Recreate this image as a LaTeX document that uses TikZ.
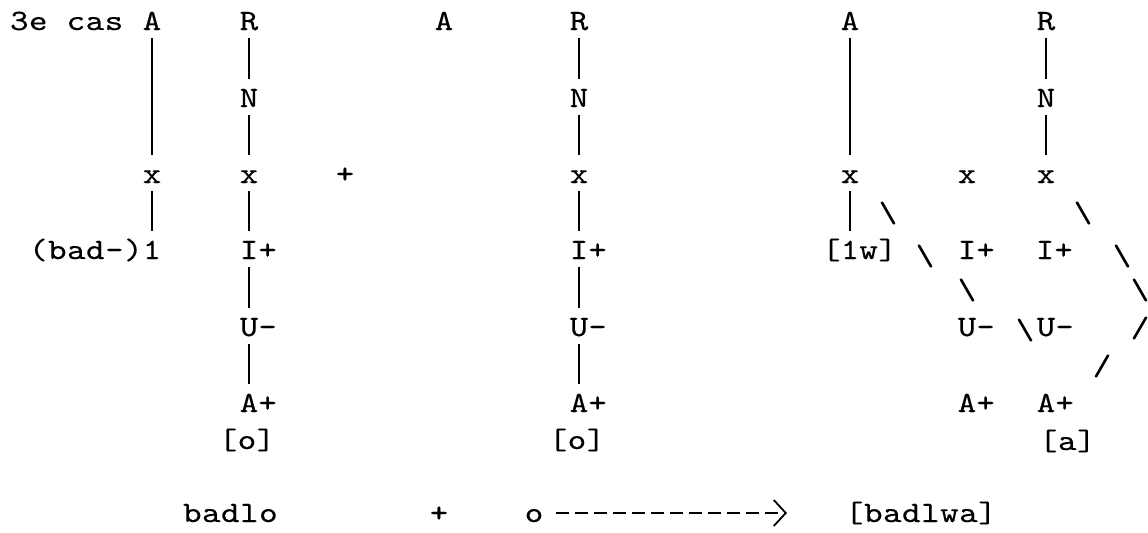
\documentclass[tikz,border=0pt]{standalone}
\usepackage{fontspec}
\newfontfamily\tw{lmmono10-regular.otf}[FakeStretch=1.2, FakeBold=0.25, LetterSpace=1.5]
\usetikzlibrary{arrows.meta}
\begin{document}
\begin{tikzpicture}[x=0.5pt,y=-0.5pt,
  t/.style={inner sep=0pt, outer sep=0pt, anchor=base, font=\tw\fontsize{14.75}{16}\selectfont, text height=9pt, text depth=0pt},
  tl/.style={t, anchor=base west},
  bs/.style={inner sep=0pt, outer sep=0pt, anchor=center, font=\tw\fontsize{14.75}{16}\selectfont},
  link/.style={line width=0.65pt, shorten <=4pt, shorten >=5pt},
  dasharrow/.style={line width=0.9pt, dash pattern=on 6.5pt off 3pt, shorten <=6.5pt, shorten >=29pt,
     -{Straight Barb[length=6pt,width=13pt,line width=0.9pt]}}]
\useasboundingbox (0,0) rectangle (1148,532);

% title
\node[tl] (title) at (10,30) {3e cas};

% column 1
\node[t] (A1) at (152,30) {A};
\node[t] (x1) at (152,183) {x};
\node[t] (l1) at (152,259) {\llap{(bad-)}1};
\draw[link] (A1.south) -- (x1.north);
\draw[link] (x1.south) -- (l1.north);

% column 2
\node[t] (R2) at (249,30) {R};
\node[t] (N2) at (249,107) {N};
\node[t] (x2) at (249,183) {x};
\node[t] (I2) at (249,259) {I\rlap{+}};
\node[t] (U2) at (249,336) {U\rlap{-}};
\node[t] (A2) at (249,412) {A\rlap{+}};
\node[t] (o2) at (247,449) {[o]};
\draw[link] (R2.south) -- (N2.north);
\draw[link] (N2.south) -- (x2.north);
\draw[link] (x2.south) -- (I2.north);
\draw[link] (I2.south) -- (U2.north);
\draw[link] (U2.south) -- (A2.north);

\node[t] (plus1) at (345,183) {+};

% column 3
\node[t] (A3) at (444,30) {A};
\node[t] (R3) at (579,30) {R};
\node[t] (N3) at (579,107) {N};
\node[t] (x3) at (579,183) {x};
\node[t] (I3) at (579,259) {I\rlap{+}};
\node[t] (U3) at (579,336) {U\rlap{-}};
\node[t] (A3b) at (579,412) {A\rlap{+}};
\node[t] (o3) at (577,449) {[o]};
\draw[link] (R3.south) -- (N3.north);
\draw[link] (N3.south) -- (x3.north);
\draw[link] (x3.south) -- (I3.north);
\draw[link] (I3.south) -- (U3.north);
\draw[link] (U3.south) -- (A3b.north);

% column 4
\node[t] (A4) at (850,30) {A};
\node[t] (x4) at (850,183) {x};
\node[t] (w4) at (850,259) {\llap{[}1\rlap{w]}};
\draw[link] (A4.south) -- (x4.north);
\draw[link] (x4.south) -- (w4.north);

% column 4b
\node[t] (x45) at (967,183) {x};
\node[t] (I45) at (967,259) {I\rlap{+}};
\node[t] (U45) at (967,336) {U\rlap{-}};
\node[t] (A45) at (967,412) {A\rlap{+}};

% column 5
\node[t] (R5) at (1046,30) {R};
\node[t] (N5) at (1046,107) {N};
\node[t] (x5) at (1046,183) {x};
\node[t] (I5) at (1045,259) {I\rlap{+}};
\node[t] (U5) at (1046,336) {U\rlap{-}};
\node[t] (A5) at (1046,412) {A\rlap{+}};
\node[tl] (a5) at (1039,450) {[a]};
\draw[link] (R5.south) -- (N5.north);
\draw[link] (N5.south) -- (x5.north);

% typed diagonal strokes
\node[bs] (b1) at (888,213) {\textbackslash};
\node[bs] (b2) at (925,256) {\textbackslash};
\node[bs] (b3) at (967,290) {\textbackslash};
\node[bs] (b4) at (1025,330) {\textbackslash};
\node[bs] (b5) at (1083,213) {\textbackslash};
\node[bs] (b6) at (1122,256) {\textbackslash};
\node[bs] (b7) at (1140,290) {\textbackslash};
\node[bs] (s1) at (1140,328) {/};
\node[bs] (s2) at (1102,366) {/};

% bottom line
\node[tl] (badlo) at (183,522) {badlo};
\node[t] (plus2) at (439,522) {+};
\node[t] (ob) at (534,522) {o};
\node[tl] (badlwa) at (845,522) {[badlwa]};
\draw[dasharrow] (ob.east) -- (badlwa.west);
\end{tikzpicture}
\end{document}
